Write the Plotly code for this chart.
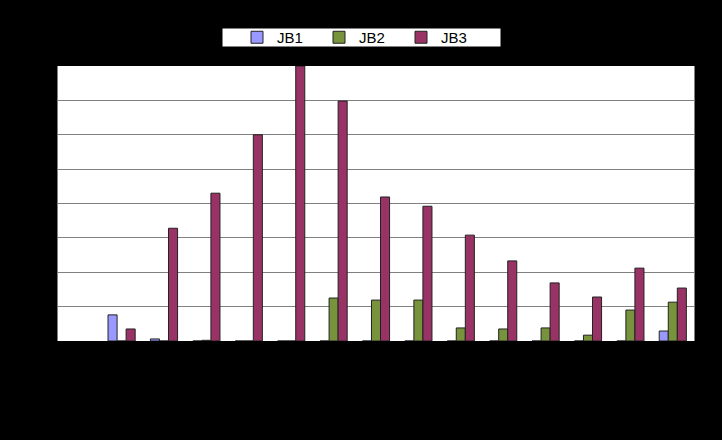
import plotly.graph_objects as go

categories = [str(i) for i in range(1, 16)]
jb1 = [None, 0.76, 0.06, 0, 0, 0, 0, 0, 0, 0, 0, 0, 0, 0, 0.29]
jb2 = [None, 0, 0, 0.02, 0, 0, 1.25, 1.19, 1.19, 0.38, 0.35, 0.38, 0.17, 0.90, 1.13]
jb3 = [None, 0.35, 3.28, 4.30, 6.0, 8.0, 6.98, 4.19, 3.92, 3.08, 2.33, 1.69, 1.28, 2.12, 1.54]

series = [("JB1", jb1, "#9999FF"), ("JB2", jb2, "#77933C"), ("JB3", jb3, "#993366")]

fig = go.Figure()
for name, vals, col in series:
    fig.add_trace(go.Bar(x=categories, y=vals, name=name, marker_color=col,
                         marker_line_color="#222222", marker_line_width=1))

fig.update_layout(
    width=722, height=440,
    paper_bgcolor="black", plot_bgcolor="white",
    margin=dict(l=58, r=28, t=66, b=99, autoexpand=False),
    barmode="group", bargap=0.36, bargroupgap=0,
    font=dict(family="Liberation Sans, Arial", size=13, color="black"),
    showlegend=True,
    legend=dict(orientation="h", x=(360 - 58) / 636, xanchor="center",
                y=(341 - 37.5) / 275, yanchor="middle", bgcolor="rgba(0,0,0,0)",
                font=dict(size=15, color="black"), entrywidth=37,
                traceorder="normal"),
    shapes=[dict(type="rect", xref="paper", yref="paper",
                 x0=(222 - 58) / 636, x1=(501 - 58) / 636,
                 y0=(341 - 47) / 275, y1=(341 - 28) / 275,
                 fillcolor="white", line=dict(color="black", width=1), layer="below")],
)
fig.update_xaxes(showgrid=False, tickfont=dict(color="black"), showline=True,
                 linecolor="black", linewidth=1, mirror=False)
fig.update_yaxes(range=[0, 8], dtick=1, showgrid=True, gridcolor="#808080",
                 gridwidth=1, tickfont=dict(color="black"), zeroline=False,
                 showline=True, linecolor="#808080", mirror=True)

fig.write_html("out.html")
